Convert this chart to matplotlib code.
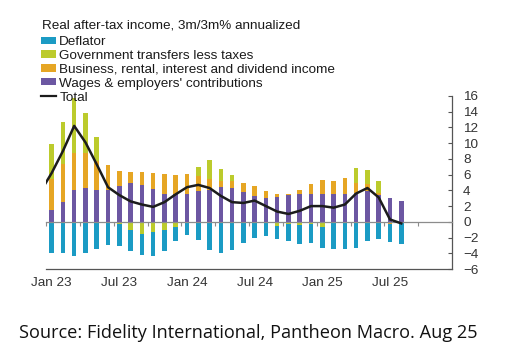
import numpy as np
import matplotlib
matplotlib.use("Agg")
import matplotlib.pyplot as plt
from matplotlib.patches import Patch
from matplotlib.lines import Line2D

# ---------------- data (Jan 23 .. Aug 25, monthly) ----------------
months = ["Jan 23", "Feb 23", "Mar 23", "Apr 23", "May 23", "Jun 23", "Jul 23", "Aug 23",
          "Sep 23", "Oct 23", "Nov 23", "Dec 23", "Jan 24", "Feb 24", "Mar 24", "Apr 24",
          "May 24", "Jun 24", "Jul 24", "Aug 24", "Sep 24", "Oct 24", "Nov 24", "Dec 24",
          "Jan 25", "Feb 25", "Mar 25", "Apr 25", "May 25", "Jun 25", "Jul 25", "Aug 25"]

wages = [1.5, 2.5, 4.1, 4.3, 4.1, 4.0, 4.5, 4.9, 4.7, 4.2, 3.6, 3.6, 3.5, 3.9, 4.0, 4.4,
         4.3, 3.8, 3.3, 3.0, 3.2, 3.4, 3.5, 3.5, 3.5, 3.5, 3.6, 3.7, 3.9, 3.4, 3.0, 2.7]
business = [3.9, 4.8, 4.6, 4.4, 3.6, 3.2, 2.0, 1.4, 1.6, 2.0, 2.5, 2.4, 2.6, 1.9, 1.5, 0.8,
            0.9, 1.2, 1.3, 0.9, 0.3, 0.2, 0.6, 1.3, 1.8, 1.7, 2.0, 1.3, 0.9, 0.3, -0.3, 0.0]
gov = [4.5, 5.4, 7.1, 5.1, 3.1, 0.0, -0.3, -1.0, -1.5, -1.3, -1.1, -0.7, 0.0, 1.2, 2.3, 1.5,
       0.8, 0.0, 0.0, 0.0, -0.5, -0.3, -0.4, -0.3, -0.6, 0.0, 0.0, 1.9, 1.8, 1.5, 0.0, 0.0]
deflator = [-4.0, -4.0, -4.3, -4.0, -3.5, -3.0, -2.8, -2.7, -2.7, -3.0, -2.6, -1.8, -1.7, -2.3,
            -3.6, -4.0, -3.6, -2.7, -2.0, -1.8, -1.7, -2.2, -2.4, -2.4, -2.7, -3.5, -3.5, -3.3,
            -2.4, -2.2, -2.3, -2.8]

# Total line, starting one month earlier (Dec 22) than the bars
total_months = ["Dec 22"] + months
total = [3.8, 6.2, 9.0, 12.2, 10.1, 7.3, 4.4, 3.4, 2.6, 2.2, 1.9, 2.5, 3.5, 4.4, 4.7, 4.3,
         3.3, 2.5, 2.4, 2.7, 2.0, 1.3, 1.0, 1.4, 2.0, 2.0, 1.8, 2.2, 3.6, 4.3, 3.1, 0.3, -0.2]

tick_labels = ["Jan 23", "Jul 23", "Jan 24", "Jul 24", "Jan 25", "Jul 25"]
y_ticks = list(range(-6, 17, 2))

# ---------------- styling ----------------
C_DEFL = "#1b9bc4"
C_GOV = "#bccb2c"
C_BUS = "#e6a624"
C_WAGE = "#6c57a2"
C_TOTAL = "#1c1c1c"
FONT = "Liberation Sans"

plt.rcParams["font.family"] = [FONT, "DejaVu Sans"]

fig = plt.figure(figsize=(5.15, 3.59), dpi=100)
ax = fig.add_axes([46 / 515, 1 - 269 / 359, (452 - 46) / 515, (269 - 96) / 359])

x = np.arange(len(months))
series = [("Wages & employers' contributions", wages, C_WAGE),
          ("Business, rental, interest and dividend income", business, C_BUS),
          ("Government transfers less taxes", gov, C_GOV),
          ("Deflator", deflator, C_DEFL)]

pos_base = np.zeros(len(months))
neg_base = np.zeros(len(months))
bw = 0.4
for name, vals, col in series:
    v = np.asarray(vals, dtype=float)
    bottoms = np.where(v >= 0, pos_base, neg_base)
    ax.bar(x, v, bottom=bottoms, width=bw, color=col, linewidth=0, zorder=1)
    pos_base = pos_base + np.where(v > 0, v, 0)
    neg_base = neg_base + np.where(v < 0, v, 0)

xt = np.arange(len(total_months)) - 1
ax.plot(xt, total, color=C_TOTAL, lw=1.8, zorder=3, solid_joinstyle="round")

ax.set_xlim(-0.5, 35.5)
ax.set_ylim(-6, 16)

# zero axis with quarter tick marks
ax.spines["bottom"].set_position(("data", 0))
ax.spines["bottom"].set_color("#8c8c8c")
ax.spines["bottom"].set_linewidth(0.9)
ax.set_xticks(np.arange(-0.5, 36, 3))
ax.tick_params(axis="x", which="major", length=3, width=0.8, color="#8c8c8c",
               labelbottom=False, direction="out")

ax.spines["top"].set_visible(False)
ax.spines["left"].set_visible(False)
ax.spines["right"].set_color("#555555")
ax.spines["right"].set_linewidth(0.9)

ax.yaxis.tick_right()
ax.set_yticks(y_ticks)
ax.tick_params(axis="y", direction="in", length=3, width=0.8, color="#555555",
               labelsize=9.7, labelcolor="#333333", pad=8)

# date labels along the bottom edge
sec = ax.secondary_xaxis(0.0)
sec.set_xticks([months.index(t) for t in tick_labels])
sec.set_xticklabels(tick_labels)
sec.tick_params(length=0, labelsize=9.7, labelcolor="#333333", pad=6)
sec.spines["bottom"].set_color("#555555")
sec.spines["bottom"].set_linewidth(0.9)

# legend title and legend
fig.text(42 / 515, 1 - 25 / 359, "Real after-tax income, 3m/3m% annualized",
         fontsize=9.7, color="#1a1a1a", va="center", ha="left")
handles = [Patch(facecolor=C_DEFL, edgecolor="none"),
           Patch(facecolor=C_GOV, edgecolor="none"),
           Patch(facecolor=C_BUS, edgecolor="none"),
           Patch(facecolor=C_WAGE, edgecolor="none"),
           Line2D([0], [0], color=C_TOTAL, lw=1.6)]
labels = ["Deflator", "Government transfers less taxes",
          "Business, rental, interest and dividend income",
          "Wages & employers' contributions", "Total"]
leg = fig.legend(handles, labels,
                 loc="upper left", bbox_to_anchor=(41 / 515, 1 - 36 / 359),
                 frameon=False, fontsize=9.7,
                 handlelength=1.1, handleheight=0.45, handletextpad=0.25,
                 labelspacing=0.14, borderpad=0, borderaxespad=0)
for t in leg.get_texts():
    t.set_color("#1a1a1a")

fig.text(19 / 515, 1 - 333 / 359, "Source: Fidelity International, Pantheon Macro. Aug 25",
         fontsize=13.1, family=["Open Sans", "DejaVu Sans"], color="#111111", va="center", ha="left")

fig.savefig("out.png", dpi=100)
